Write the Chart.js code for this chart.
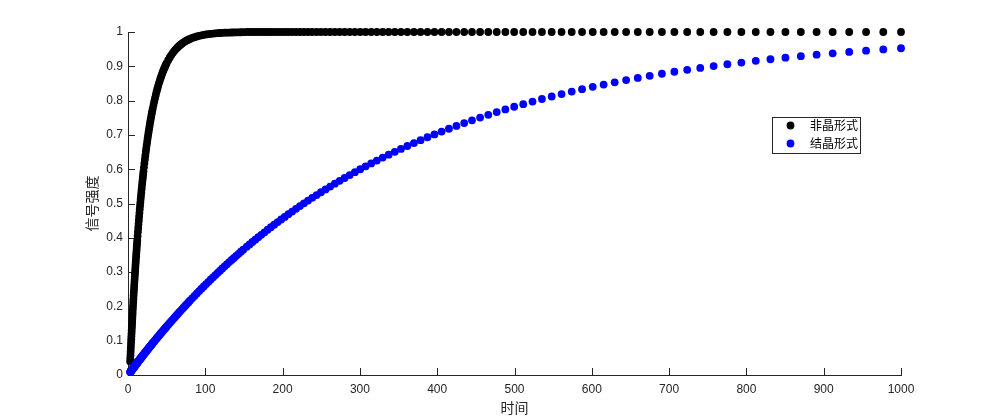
<!DOCTYPE html>
<html>
<head>
<meta charset="utf-8">
<script src="https://cdn.jsdelivr.net/npm/chart.js@4.4.1/dist/chart.umd.min.js"></script>
<style>
  html, body { margin: 0; padding: 0; background: #fff; }
  #wrap { width: 995px; height: 420px; }
</style>
</head>
<body>
<div id="wrap"><canvas id="signal-chart" width="995" height="420"></canvas></div>
<script>
// sample times (dense at the start where the curves climb fast)
const time = [
  2.8, 3, 3.2, 3.4, 3.6, 3.8, 4, 4.2, 4.4, 4.6, 4.8, 5, 5.2, 5.4, 5.6, 5.8, 6,
  6.25, 6.5, 6.75, 7, 7.25, 7.5, 7.75, 8, 8.25, 8.5, 8.75, 9, 9.25, 9.5, 9.75, 10,
  10.25, 10.5, 10.75, 11, 11.25, 11.5, 11.75, 12,
  12.4, 12.8, 13.2, 13.6, 14, 14.4, 14.8, 15.2, 15.6, 16, 16.4, 16.8, 17.2, 17.6, 18,
  18.4, 18.8, 19.2, 19.6, 20,
  20.6, 21.2, 21.8, 22.4, 23, 23.6, 24.2, 24.8, 25.4, 26, 26.6, 27.2, 27.8, 28.4, 29,
  29.6, 30.2, 30.8, 31.4, 32,
  33, 34, 35, 36, 37, 38, 39, 40, 41, 42, 43, 44, 45, 46, 47, 48, 49, 50,
  52, 54, 56, 58, 60, 62, 64, 66, 68, 70, 72, 74, 76, 78, 80,
  83, 86, 89, 92, 95, 98, 101, 104, 107, 110, 113, 116, 119, 122, 125, 128, 131, 134,
  137, 140, 143, 146, 149,
  153.6, 157.2, 160.9, 164.6, 168.5, 172.4, 176.5, 180.6, 184.8, 189.1,
  193.6, 198.1, 202.7, 207.5, 212.3, 217.3, 222.4, 227.6, 232.9, 238.3,
  243.9, 249.6, 255.5, 261.5, 267.6, 273.8, 280.2, 286.8, 293.5, 300.4,
  307.4, 314.6, 321.9, 329.5, 337.2, 345.1, 353.1, 361.4, 369.9, 378.5,
  387.4, 396.4, 405.7, 415.2, 424.9, 434.9, 445.0, 455.5, 466.1, 477.0,
  488.2, 499.6, 511.3, 523.3, 535.5, 548.1, 560.9, 574.0, 587.4, 601.2,
  615.3, 629.6, 644.4, 659.5, 674.9, 690.7, 706.8, 723.4, 740.3, 757.6,
  775.4, 793.5, 812.1, 831.1, 850.5, 870.4, 890.8, 911.6, 933.0, 954.8,
  977.1, 1000
];

// 非晶形式 (black)
const amorphous = [
  0.0392, 0.0488, 0.0582, 0.0676, 0.0769, 0.0861, 0.0952, 0.1042, 0.1131, 0.1219,
  0.1306, 0.1393, 0.1479, 0.1563, 0.1647, 0.1730, 0.1813,
  0.1914, 0.2015, 0.2114, 0.2212, 0.2309, 0.2404, 0.2499, 0.2592, 0.2684, 0.2775,
  0.2864, 0.2953, 0.3041, 0.3127, 0.3212, 0.3297, 0.3380, 0.3462, 0.3543, 0.3624,
  0.3703, 0.3781, 0.3858, 0.3935,
  0.4055, 0.4173, 0.4288, 0.4401, 0.4512, 0.4621, 0.4727, 0.4832, 0.4934, 0.5034,
  0.5132, 0.5229, 0.5323, 0.5416, 0.5507, 0.5596, 0.5683, 0.5768, 0.5852, 0.5934,
  0.6054, 0.6171, 0.6284, 0.6394, 0.6501, 0.6604, 0.6704, 0.6802, 0.6896, 0.6988,
  0.7077, 0.7163, 0.7247, 0.7329, 0.7408, 0.7484, 0.7559, 0.7631, 0.7701, 0.7769,
  0.7878, 0.7981, 0.8079, 0.8173, 0.8262, 0.8347, 0.8428, 0.8504, 0.8577, 0.8647,
  0.8713, 0.8775, 0.8835, 0.8892, 0.8946, 0.8997, 0.9046, 0.9093,
  0.9179, 0.9257, 0.9328, 0.9392, 0.9450, 0.9502, 0.9550, 0.9592, 0.9631, 0.9666,
  0.9698, 0.9727, 0.9753, 0.9776, 0.9798,
  0.9826, 0.9850, 0.9871, 0.9889, 0.9904, 0.9918, 0.9929, 0.9939, 0.9948, 0.9955,
  0.9961, 0.9967, 0.9971, 0.9975, 0.9979, 0.9982, 0.9984, 0.9986, 0.9988, 0.9990,
  0.9991, 0.9993, 0.9994,
  1, 1, 1, 1, 1, 1, 1, 1, 1, 1,
  1, 1, 1, 1, 1, 1, 1, 1, 1, 1,
  1, 1, 1, 1, 1, 1, 1, 1, 1, 1,
  1, 1, 1, 1, 1, 1, 1, 1, 1, 1,
  1, 1, 1, 1, 1, 1, 1, 1, 1, 1,
  1, 1, 1, 1, 1, 1, 1, 1, 1, 1,
  1, 1, 1, 1, 1, 1, 1, 1, 1, 1,
  1, 1, 1, 1, 1, 1, 1, 1, 1, 1,
  1, 1
];

// 结晶形式 (blue)
const crystalline = [
  0.0085, 0.0091, 0.0097, 0.0103, 0.0109, 0.0115, 0.0121, 0.0127, 0.0133, 0.0139,
  0.0145, 0.0151, 0.0157, 0.0163, 0.0169, 0.0175, 0.0181,
  0.0189, 0.0196, 0.0204, 0.0211, 0.0219, 0.0226, 0.0233, 0.0241, 0.0248, 0.0256,
  0.0263, 0.0271, 0.0278, 0.0285, 0.0293, 0.0300, 0.0308, 0.0315, 0.0322, 0.0330,
  0.0337, 0.0344, 0.0352, 0.0359,
  0.0371, 0.0383, 0.0394, 0.0406, 0.0418, 0.0430, 0.0441, 0.0453, 0.0464, 0.0476,
  0.0488, 0.0499, 0.0511, 0.0522, 0.0534, 0.0546, 0.0557, 0.0569, 0.0580, 0.0592,
  0.0609, 0.0626, 0.0643, 0.0660, 0.0677, 0.0694, 0.0711, 0.0728, 0.0745, 0.0762,
  0.0779, 0.0796, 0.0813, 0.0829, 0.0846, 0.0863, 0.0880, 0.0896, 0.0913, 0.0930,
  0.0957, 0.0985, 0.1012, 0.1039, 0.1067, 0.1094, 0.1121, 0.1148, 0.1175, 0.1202,
  0.1229, 0.1255, 0.1282, 0.1309, 0.1335, 0.1361, 0.1388, 0.1414,
  0.1466, 0.1518, 0.1570, 0.1621, 0.1672, 0.1722, 0.1773, 0.1823, 0.1872, 0.1922,
  0.1971, 0.2020, 0.2068, 0.2116, 0.2164,
  0.2236, 0.2306, 0.2376, 0.2446, 0.2515, 0.2583, 0.2650, 0.2717, 0.2784, 0.2849,
  0.2914, 0.2979, 0.3043, 0.3106, 0.3169, 0.3231, 0.3293, 0.3354, 0.3414, 0.3474,
  0.3534, 0.3593, 0.3651,
  0.3739, 0.3808, 0.3877, 0.3946, 0.4017, 0.4088, 0.4161, 0.4234, 0.4307, 0.4382,
  0.4458, 0.4534, 0.4610, 0.4688, 0.4765, 0.4844, 0.4924, 0.5004, 0.5084, 0.5164,
  0.5246, 0.5328, 0.5411, 0.5494, 0.5577, 0.5660, 0.5744, 0.5829, 0.5913, 0.5998,
  0.6083, 0.6168, 0.6252, 0.6338, 0.6423, 0.6508, 0.6592, 0.6677, 0.6762, 0.6846,
  0.6931, 0.7014, 0.7097, 0.7180, 0.7262, 0.7344, 0.7425, 0.7506, 0.7585, 0.7664,
  0.7743, 0.7820, 0.7896, 0.7972, 0.8046, 0.8119, 0.8191, 0.8262, 0.8332, 0.8401,
  0.8468, 0.8533, 0.8598, 0.8661, 0.8722, 0.8783, 0.8841, 0.8898, 0.8953, 0.9007,
  0.9060, 0.9110, 0.9159, 0.9206, 0.9252, 0.9296, 0.9339, 0.9379, 0.9418, 0.9456,
  0.9492, 0.9526
];

const seriesNames = ["非晶形式", "结晶形式"];
const xTitle = "时间";
const yTitle = "信号强度";

const AXIS_COLOR = "#262626";
const NUM_FONT = "'Liberation Sans', Arial, sans-serif";
const CJK_FONT = "'Noto Sans CJK SC', sans-serif";
const DOT_RADIUS = 3.9;

const toPoints = ys => time.map((t, i) => ({ x: t, y: ys[i] }));

// matlab style ticks pointing into the axes
const inwardTicks = {
    id: "inwardTicks",
    beforeDatasetsDraw(chart) {
        const { ctx, chartArea, scales } = chart;
        ctx.save();
        ctx.strokeStyle = AXIS_COLOR;
        ctx.lineWidth = 1;
        ctx.beginPath();
        scales.x.ticks.forEach(t => {
            const px = Math.round(scales.x.getPixelForValue(t.value)) + 0.5;
            ctx.moveTo(px, chartArea.bottom);
            ctx.lineTo(px, chartArea.bottom - 7);
        });
        scales.y.ticks.forEach(t => {
            const py = Math.round(scales.y.getPixelForValue(t.value)) + 0.5;
            ctx.moveTo(chartArea.left, py);
            ctx.lineTo(chartArea.left + 7, py);
        });
        ctx.stroke();
        ctx.restore();
    }
};

// boxed legend sitting inside the plot on the right
const boxLegend = {
    id: "boxLegend",
    afterDraw(chart) {
        const { ctx, chartArea } = chart;
        const left = chartArea.left + 644;
        const top = chartArea.top + 85;
        const w = 88, h = 36;

        ctx.save();
        ctx.fillStyle = "#fff";
        ctx.fillRect(left, top, w, h);
        ctx.strokeStyle = AXIS_COLOR;
        ctx.lineWidth = 1;
        ctx.strokeRect(left + 0.5, top + 0.5, w, h);

        chart.data.datasets.forEach((ds, i) => {
            const cy = top + 8.5 + i * 18;
            ctx.fillStyle = ds.backgroundColor;
            ctx.beginPath();
            ctx.arc(left + 18.5, cy, ds.pointRadius, 0, Math.PI * 2);
            ctx.fill();

            ctx.fillStyle = "#000";
            ctx.font = "12px " + CJK_FONT;
            ctx.textBaseline = "middle";
            ctx.fillText(ds.label, left + 38, cy);
        });
        ctx.restore();
    }
};

const tickStyle = { color: AXIS_COLOR, font: { family: NUM_FONT, size: 12 } };

new Chart(document.getElementById("signal-chart"), {
    type: "scatter",
    data: {
        datasets: [
            {
                label: seriesNames[0],
                data: toPoints(amorphous),
                backgroundColor: "#000000",
                borderWidth: 0,
                pointRadius: DOT_RADIUS,
                order: 1,
                clip: false
            },
            {
                label: seriesNames[1],
                data: toPoints(crystalline),
                backgroundColor: "#0000ff",
                borderWidth: 0,
                pointRadius: DOT_RADIUS,
                order: 0,
                clip: false
            }
        ]
    },
    options: {
        responsive: false,
        animation: false,
        devicePixelRatio: 1,
        layout: { padding: { left: 0, right: 94, top: 32, bottom: 0 } },
        plugins: {
            legend: { display: false },
            tooltip: { enabled: false }
        },
        scales: {
            x: {
                type: "linear",
                min: 0,
                max: 1000,
                afterFit: s => { s.height = 45; },
                ticks: {
                    ...tickStyle,
                    stepSize: 100,
                    padding: 7,
                    maxRotation: 0,
                    callback: v => String(v)
                },
                grid: { display: false, drawTicks: false },
                border: { display: true, color: AXIS_COLOR, width: 1 },
                title: {
                    display: true,
                    text: xTitle,
                    color: AXIS_COLOR,
                    font: { family: CJK_FONT, size: 14 },
                    padding: { top: 0, bottom: 4 }
                }
            },
            y: {
                type: "linear",
                min: 0,
                max: 1,
                afterFit: s => { s.width = 128; },
                ticks: {
                    ...tickStyle,
                    stepSize: 0.1,
                    padding: 5,
                    callback: v => String(+v.toFixed(1))
                },
                grid: { display: false, drawTicks: false },
                border: { display: true, color: AXIS_COLOR, width: 1 },
                title: {
                    display: true,
                    text: yTitle,
                    color: AXIS_COLOR,
                    font: { family: CJK_FONT, size: 14 },
                    padding: { top: 83, bottom: 0 }
                }
            }
        }
    },
    plugins: [inwardTicks, boxLegend]
});
</script>
</body>
</html>
